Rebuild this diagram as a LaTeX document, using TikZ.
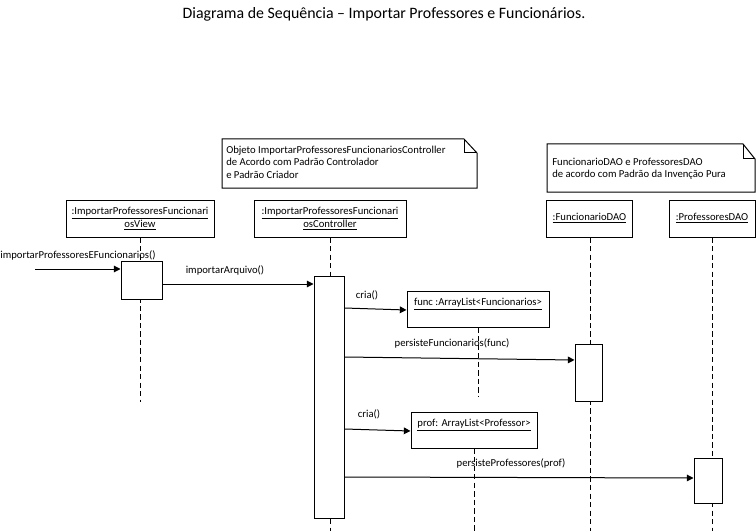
\documentclass[tikz,border=0pt]{standalone}
\usepackage{fontspec}
\setmainfont{Carlito}
\usetikzlibrary{arrows.meta,calc}
\tikzset{
  lifebox/.style={draw,line width=0.75pt,inner sep=0pt,minimum height=27.75pt,align=center,font=\fontsize{8}{9.8}\selectfont},
  actbox/.style={draw,line width=0.75pt,fill=white,inner sep=0pt},
  objbox/.style={draw,line width=0.75pt,fill=white,inner sep=0pt,minimum height=27pt},
  lifeline/.style={line width=0.75pt,dash pattern=on 4pt off 2.4pt},
  msg/.style={line width=0.75pt,-{Triangle[length=5pt,width=5pt]}},
  lbl/.style={font=\fontsize{8}{9.5}\selectfont,inner sep=0pt},
  notetext/.style={font=\fontsize{8}{9.4}\selectfont,align=left,inner sep=0pt,anchor=north west},
  notefold/.style={line width=0.75pt}
}
\begin{document}
\begin{tikzpicture}[x=0.75pt,y=-0.75pt]
\useasboundingbox (0,0) rectangle (756,531);
% title
\node[font=\fontsize{11.9}{13}\selectfont,inner sep=0pt] (title) at (384,14) {Diagrama de Sequência – Importar Professores e Funcionários.};
% note 1
\draw[notefold] (222,139) -- (464,139) -- (477,153) -- (477,188) -- (222,188) -- cycle;
\draw[notefold] (464,139) -- (464,153) -- (477,153);
\node[notetext] (n1) at (226,145.5) {Objeto ImportarProfessoresFuncionariosController\\de Acordo com Padrão Controlador\\e Padrão Criador};
% note 2
\draw[notefold] (547,144) -- (743,144) -- (755,159) -- (755,192) -- (547,192) -- cycle;
\draw[notefold] (743,144) -- (743,159) -- (755,159);
\node[notetext] (n2) at (552,157.5) {FuncionarioDAO e ProfessoresDAO\\de acordo com Padrão da Invenção Pura};
% lifeline boxes
\node[lifebox,minimum width=111pt] (view) at (140,218.5) {\underline{:ImportarProfessoresFuncionari}\\\underline{osView}};
\node[lifebox,minimum width=114pt] (ctrl) at (330,218.5) {\underline{:ImportarProfessoresFuncionari}\\\underline{osController}};
\node[lifebox,minimum width=65pt] (fdao) at (589.5,218.5) {\underline{:FuncionarioDAO}};
\node[lifebox,minimum width=64.5pt] (pdao) at (712,218.5) {\underline{:ProfessoresDAO}};
% lifeline end points
\coordinate (viewend) at (140,402);
\coordinate (ctrlend) at (330,531);
\coordinate (fdaoend) at (590.5,531);
\coordinate (pdaoend) at (712,531);
\coordinate (funcend) at (478,397);
\coordinate (profend) at (474,531);
\draw[lifeline] (view.south) -- (viewend);
\draw[lifeline] (ctrl.south) -- (ctrlend);
\draw[lifeline] (fdao.south -| fdaoend) -- (fdaoend);
\draw[lifeline] (pdao.south) -- (pdaoend);
% activations
\node[actbox,minimum width=30.75pt,minimum height=28.5pt] (vact) at (141.5,280) {};
\node[actbox,minimum width=22.5pt,minimum height=181.5pt] (cact) at (329,397) {};
\node[actbox,minimum width=20.25pt,minimum height=42.75pt] (fact) at (588.5,372.5) {};
\node[actbox,minimum width=21pt,minimum height=33.75pt] (pact) at (708,480.5) {};
% created objects
\node[objbox,minimum width=106.5pt] (func) at (478,309) {};
\node[lbl,anchor=north] (funct) at (func.north) [yshift=-5.5pt] {\underline{func :ArrayList<Funcionarios>}};
\draw[lifeline] (func.south) -- (funcend);
\node[objbox,minimum width=94.5pt] (prof) at (474,430) {};
\node[lbl,anchor=north] (proft) at (prof.north) [yshift=-5.5pt] {\underline{prof: ArrayList<Professor>}};
\draw[lifeline] (prof.south) -- (profend);
% messages
\coordinate (start) at (35,269);
\draw[msg] (start) -- (vact.west |- start);
\node[lbl] (m0) at (78,255) {importarProfessoresEFuncionarios()};
\draw[msg] (vact.east |- 0,284) -- (cact.west |- 0,284);
\node[lbl] (m1) at (225,270) {importarArquivo()};
\draw[msg] (cact.east |- 0,308) -- (func.west |- 0,310);
\node[lbl] (m2) at (367,295) {cria()};
\draw[msg] (cact.east |- 0,357) -- (fact.west |- 0,360);
\node[lbl] (m3) at (452,343) {persisteFuncionarios(func)};
\draw[msg] (cact.east |- 0,429) -- (prof.west |- 0,431);
\node[lbl] (m4) at (369,414) {cria()};
\draw[msg] (cact.east |- 0,477) -- (pact.west |- 0,478);
\node[lbl] (m5) at (511,463) {persisteProfessores(prof)};
\end{tikzpicture}
\end{document}
